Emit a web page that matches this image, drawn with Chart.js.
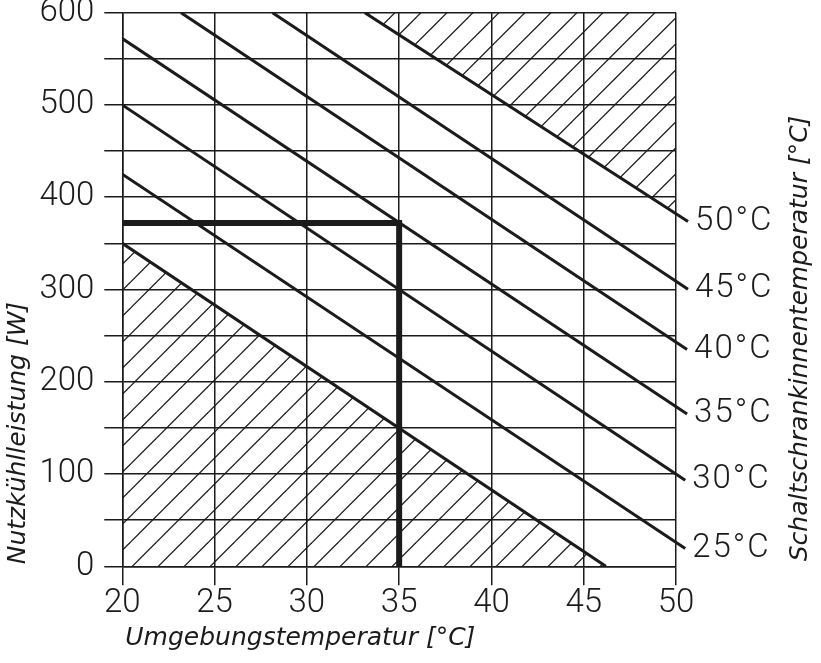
<!DOCTYPE html>
<html>
<head>
<meta charset="utf-8">
<script src="https://cdn.jsdelivr.net/npm/chart.js"></script>
<style>
  html, body { margin: 0; padding: 0; background: #fff; }
  #wrap { width: 821px; height: 663px; position: relative; }
</style>
</head>
<body>
<div id="wrap"><canvas id="chart"></canvas></div>
<script>
// Nutzkühlleistung over Umgebungstemperatur, one line per Schaltschrankinnentemperatur
const xTicks = [20, 25, 30, 35, 40, 45, 50];
const yTicks = [0, 100, 200, 300, 400, 500, 600];

const innerTemps = ["25°C", "30°C", "35°C", "40°C", "45°C", "50°C"];
const startX = [20, 20, 20, 23.18, 28.14, 33.14];
const startY = [425, 500, 572, 600, 600, 600];
const endX   = [50.5, 50.5, 50.6, 50.6, 50.65, 50.65];
const endY   = [19.4, 93.3, 165, 235, 300.4, 373.6];

// limits of the hatched (not usable) zones
const lowerLimitX = [20, 46.2];
const lowerLimitY = [350, 0];
const upperLimitX = [33.14, 50];
const upperLimitY = [600, 382];

// reading example: 35 °C ambient, 35 °C inside
const exampleX = [20, 35, 35];
const exampleY = [372, 372, 0];

const INK = "#1b1b1b";
const pts = (xs, ys) => xs.map((v, i) => ({ x: v, y: ys[i] }));

// diagonal hatch, phase = where lines cross (x + y) mod 26
function hatch(phase) {
  const c = document.createElement("canvas");
  c.width = 26; c.height = 26;
  const g = c.getContext("2d");
  g.strokeStyle = INK;
  g.lineWidth = 1.3;
  for (let k = -1; k <= 2; k++) {
    const s = phase + 26 * k;
    g.beginPath();
    g.moveTo(s + 3, -3);
    g.lineTo(-3, s + 3);
    g.stroke();
  }
  return g.createPattern(c, "repeat");
}

const datasets = [
  {
    data: pts(exampleX, exampleY),
    borderColor: INK, borderWidth: 6, borderJoinStyle: "miter", borderCapStyle: "butt",
    fill: false
  },
  {
    data: pts(lowerLimitX, lowerLimitY),
    borderColor: INK, borderWidth: 3,
    backgroundColor: hatch(22.6), fill: "origin"
  },
  {
    data: pts(upperLimitX, upperLimitY),
    borderWidth: 0, borderColor: "rgba(0,0,0,0)",
    backgroundColor: hatch(17.7), fill: "end"
  }
];
innerTemps.forEach((t, i) => {
  datasets.push({
    label: t,
    data: [{ x: startX[i], y: startY[i] }, { x: endX[i], y: endY[i] }],
    borderColor: INK, borderWidth: 3, fill: false,
    clip: { left: 0, top: 0, right: 20, bottom: 0 }
  });
});

const textPlugin = {
  id: "texts",
  afterDatasetsDraw(chart) {
    const { ctx, chartArea, scales: { x, y } } = chart;
    ctx.save();
    ctx.fillStyle = INK;
    ctx.font = "300 33px Roboto";
    ctx.letterSpacing = "2px";
    ctx.textAlign = "left";
    ctx.textBaseline = "middle";
    innerTemps.forEach((t, i) => {
      ctx.fillText(t, x.getPixelForValue(endX[i]) + 7, y.getPixelForValue(endY[i]));
    });

    ctx.letterSpacing = "0px";
    ctx.font = "italic 25px 'DejaVu Sans'";
    ctx.textBaseline = "alphabetic";
    ctx.fillText("Umgebungstemperatur [°C]", chartArea.left + 3, chartArea.bottom + 79);

    ctx.save();
    ctx.translate(25, chartArea.bottom - 2);
    ctx.rotate(-Math.PI / 2);
    ctx.fillText("Nutzkühlleistung [W]", 0, 0);
    ctx.restore();

    ctx.save();
    ctx.translate(807, chartArea.bottom - 5);
    ctx.rotate(-Math.PI / 2);
    ctx.fillText("Schaltschrankinnentemperatur [°C]", 0, 0);
    ctx.restore();
    ctx.restore();
  }
};

const tickFont = { family: "Roboto", weight: "300", size: 33, lineHeight: 1 };

new Chart(document.getElementById("chart"), {
  type: "line",
  data: { datasets },
  options: {
    responsive: true,
    maintainAspectRatio: false,
    devicePixelRatio: 1,
    animation: false,
    layout: { padding: { left: 0, top: 12.7, right: 145, bottom: 0 } },
    elements: { point: { radius: 0 }, line: { tension: 0 } },
    plugins: { legend: { display: false }, tooltip: { enabled: false } },
    scales: {
      x: {
        type: "linear", min: xTicks[0], max: xTicks[xTicks.length - 1],
        afterBuildTicks: s => { s.ticks = xTicks.map(v => ({ value: v })); },
        ticks: { color: INK, font: tickFont, padding: 2, autoSkip: false, maxRotation: 0 },
        grid: { color: INK, lineWidth: 1.5, tickLength: 19 },
        border: { color: INK, width: 1.5 },
        afterFit: s => { s.height = 96.7; s.paddingLeft = 0; s.paddingRight = 0; }
      },
      y: {
        min: yTicks[0], max: yTicks[yTicks.length - 1],
        ticks: {
          stepSize: 50, autoSkip: false, color: INK, font: tickFont, padding: 10,
          callback: v => (yTicks.includes(v) ? v : "")
        },
        grid: { color: INK, lineWidth: 1.5, tickLength: 18 },
        border: { color: INK, width: 1.5 },
        afterFit: s => { s.width = 122.3; s.paddingTop = 0; s.paddingBottom = 0; }
      }
    }
  },
  plugins: [textPlugin]
});
</script>
</body>
</html>
